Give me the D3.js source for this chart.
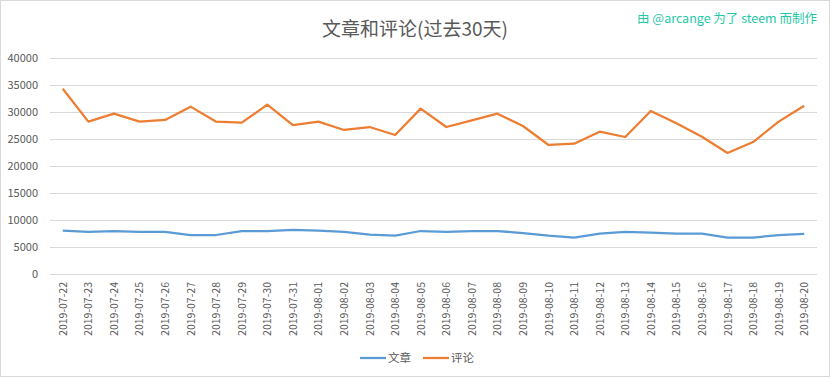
<!DOCTYPE html>
<html>
<head>
<meta charset="utf-8">
<script src="https://cdn.jsdelivr.net/npm/d3@7"></script>
<style>
  body { margin: 0; background: #fff; }
  svg { display: block; font-family: "Noto Sans CJK SC", "DejaVu Sans", sans-serif; }
</style>
</head>
<body>
<div id="chart"></div>
<script>
const dates = [
  "2019-07-22", "2019-07-23", "2019-07-24", "2019-07-25", "2019-07-26", "2019-07-27",
  "2019-07-28", "2019-07-29", "2019-07-30", "2019-07-31", "2019-08-01", "2019-08-02",
  "2019-08-03", "2019-08-04", "2019-08-05", "2019-08-06", "2019-08-07", "2019-08-08",
  "2019-08-09", "2019-08-10", "2019-08-11", "2019-08-12", "2019-08-13", "2019-08-14",
  "2019-08-15", "2019-08-16", "2019-08-17", "2019-08-18", "2019-08-19", "2019-08-20",
];
const posts = [
  8020, 7780, 7960, 7780, 7780, 7220, 7220, 7960, 7960, 8150,
  8020, 7780, 7280, 7100, 7960, 7780, 7960, 7960, 7590, 7100,
  6730, 7470, 7780, 7650, 7470, 7470, 6730, 6730, 7220, 7410,
];
const comments = [
  34300, 28210, 29690, 28210, 28520, 30990, 28210, 28020, 31360, 27590,
  28210, 26670, 27220, 25740, 30620, 27220, 28460, 29690, 27410, 23890,
  24140, 26360, 25370, 30190, 27900, 25430, 22410, 24440, 28210, 31170,
];
const yTicks = [0, 5000, 10000, 15000, 20000, 25000, 30000, 35000, 40000];
const seriesNames = ["文章", "评论"];
const seriesColors = ["#5b9bd5", "#ed7d31"];

const width = 832, height = 378;
const svg = d3.select("#chart").append("svg").attr("width", width).attr("height", height);

svg.append("rect")
  .attr("x", 0.5).attr("y", 0.5).attr("width", 829).attr("height", 376)
  .attr("fill", "#fff").attr("stroke", "#d9d9d9");

const x = d3.scaleBand().domain(dates).range([50, 817]);
const y = d3.scaleLinear().domain([0, 40000]).range([274, 58]);

// gridlines
svg.append("g")
  .selectAll("line")
  .data(yTicks)
  .join("line")
  .attr("x1", 50).attr("x2", 817)
  .attr("y1", (d) => Math.round(y(d)) + 0.5).attr("y2", (d) => Math.round(y(d)) + 0.5)
  .attr("stroke", "#d9d9d9");

svg.append("g")
  .selectAll("text")
  .data(yTicks)
  .join("text")
  .attr("x", 38).attr("y", (d) => y(d)).attr("dy", "0.35em")
  .attr("text-anchor", "end")
  .attr("font-size", 11).attr("fill", "#595959")
  .text((d) => d);

svg.append("g")
  .selectAll("text")
  .data(dates)
  .join("text")
  .attr("transform", (d) => `translate(${x(d) + x.bandwidth() / 2 + 4},282) rotate(-90)`)
  .attr("text-anchor", "end")
  .attr("font-size", 10.5).attr("fill", "#595959")
  .text((d) => d);

const line = d3.line()
  .x((d, i) => x(dates[i]) + x.bandwidth() / 2)
  .y((d) => y(d));

[posts, comments].forEach((s, i) => {
  svg.append("path")
    .datum(s)
    .attr("d", line)
    .attr("fill", "none")
    .attr("stroke", seriesColors[i])
    .attr("stroke-width", 2.25)
    .attr("stroke-linejoin", "round");
});

svg.append("text")
  .attr("x", 415).attr("y", 36)
  .attr("text-anchor", "middle")
  .attr("font-size", 19).attr("fill", "#595959")
  .text("文章和评论(过去30天)");

svg.append("text")
  .attr("x", 817).attr("y", 23)
  .attr("text-anchor", "end")
  .attr("font-size", 12.5).attr("fill", "#1fc8a8")
  .text("由 @arcange 为了 steem 而制作");

// legend
const legend = svg.append("g");
const legendX = [360, 423];
seriesNames.forEach((name, i) => {
  legend.append("line")
    .attr("x1", legendX[i]).attr("x2", legendX[i] + 26)
    .attr("y1", 358).attr("y2", 358)
    .attr("stroke", seriesColors[i]).attr("stroke-width", 2.25);
  legend.append("text")
    .attr("x", legendX[i] + 28).attr("y", 358).attr("dy", "0.35em")
    .attr("font-size", 11.5).attr("fill", "#595959")
    .text(name);
});
</script>
</body>
</html>
